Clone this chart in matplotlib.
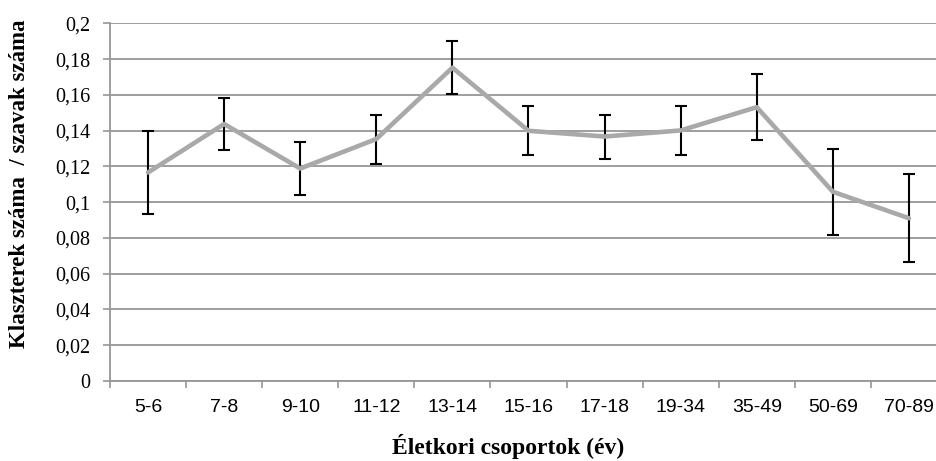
import matplotlib.pyplot as plt
from matplotlib.ticker import FuncFormatter, MultipleLocator, FixedLocator
import numpy as np

groups = ['5-6', '7-8', '9-10', '11-12', '13-14', '15-16', '17-18',
          '19-34', '35-49', '50-69', '70-89']
ratio = [0.1166, 0.1437, 0.1188, 0.1353, 0.1752, 0.1399, 0.1367,
         0.1401, 0.1531, 0.1058, 0.0910]
err = [0.0234, 0.0145, 0.0147, 0.0137, 0.0148, 0.0137, 0.0123,
       0.0137, 0.0185, 0.0240, 0.0247]

grid_gray = '#969696'

fig = plt.figure(figsize=(9.37, 4.61), dpi=100)
ax = fig.add_axes([110 / 937, 80 / 461, 837 / 937, 357.7 / 461])

x = np.arange(len(groups))
ax.errorbar(x, ratio, yerr=err, fmt='none', ecolor='black', elinewidth=1.5,
            capsize=4.3, capthick=1.5, zorder=3)
ax.plot(x, ratio, color='#A9A9A9', linewidth=3.3, solid_capstyle='round',
        solid_joinstyle='round', zorder=4)

ax.set_xlim(-0.5, len(groups) - 0.5)
ax.set_ylim(0, 0.2)

# y axis: comma decimals, gridlines every 0.02
ax.yaxis.set_major_locator(MultipleLocator(0.02))
ax.yaxis.set_major_formatter(FuncFormatter(lambda v, p: f'{v:g}'.replace('.', ',')))
ax.grid(axis='y', color=grid_gray, linewidth=1.3)
ax.set_axisbelow(True)

# category labels centred, tick marks between categories
ax.set_xticks(x)
ax.set_xticklabels(groups)
ax.xaxis.set_minor_locator(FixedLocator(np.arange(-0.5, len(groups), 1.0)))
ax.tick_params(axis='x', which='major', length=0, pad=13)
ax.tick_params(axis='x', which='minor', length=5, width=1.2, color=grid_gray)
ax.tick_params(axis='y', length=5, width=1.2, color=grid_gray, pad=9)

for lbl in ax.get_xticklabels():
    lbl.set_family('Liberation Sans')
    lbl.set_fontsize(14)
for lbl in ax.get_yticklabels():
    lbl.set_family('Liberation Serif')
    lbl.set_fontsize(14.5)

for side in ['top', 'right']:
    ax.spines[side].set_visible(False)
for side in ['left', 'bottom']:
    ax.spines[side].set_color(grid_gray)
    ax.spines[side].set_linewidth(1.3)

fig.text(508 / 937, 1 - 446 / 461, 'Életkori csoportok (év)', ha='center',
         va='center', family='Liberation Serif', fontweight='bold', fontsize=17)
fig.text(20 / 937, 1 - 184 / 461, 'Klaszterek száma  / szavak száma',
         ha='center', va='center', rotation=90, family='Liberation Serif',
         fontweight='bold', fontsize=16.5)

fig.savefig('out.png', dpi=100)
